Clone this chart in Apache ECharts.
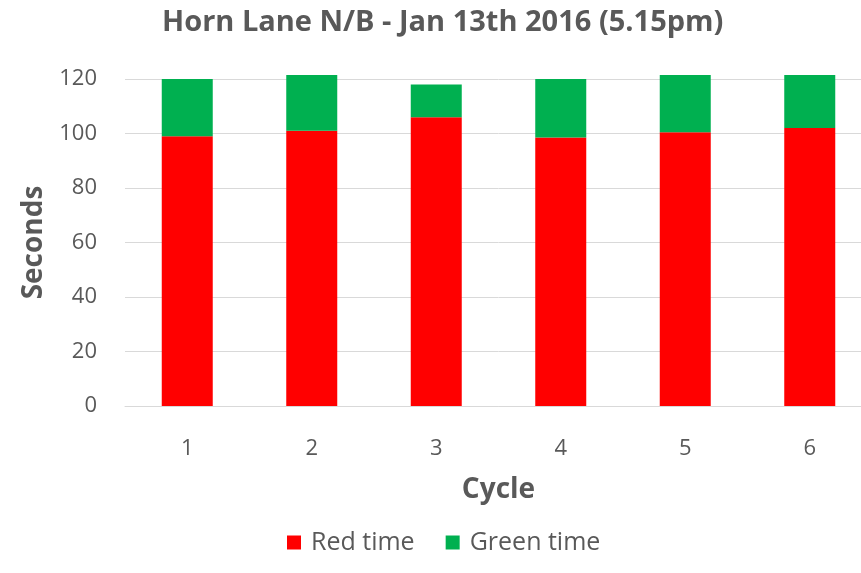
<!DOCTYPE html>
<html>
<head>
<meta charset="utf-8">
<script src="https://cdn.jsdelivr.net/npm/echarts@6/dist/echarts.min.js"></script>
<style>
	html, body { margin: 0; padding: 0; background: #fff; overflow: hidden; }
	/* a bit wider than the window: the original is cropped on the right */
	#chart { width: 872px; height: 573px; }
</style>
</head>
<body>
<div id="chart"></div>
<script>
	// data
	var cycles = ['1', '2', '3', '4', '5', '6']
	var redTime = [99, 101, 106, 98.5, 100.5, 102]
	var greenTime = [21, 20.5, 12, 21.5, 21, 19.5]
	var yTicks = [0, 20, 40, 60, 80, 100, 120]

	var txt = '#595959'
	var font = '"Open Sans", "Noto Sans", sans-serif'

	var chart = echarts.init(document.getElementById('chart'))
	chart.setOption({
		animation: false,
		textStyle: { fontFamily: font },
		title: {
			text: 'Horn Lane N/B - Jan 13th 2016 (5.15pm)',
			left: 157,
			top: 3,
			textStyle: { color: txt, fontSize: 29, fontWeight: 'bold', fontFamily: font }
		},
		legend: {
			data: ['Red time', 'Green time'],
			bottom: 13,
			left: 282,
			itemWidth: 14,
			itemHeight: 14,
			itemGap: 31,
			icon: 'rect',
			textStyle: { color: txt, fontSize: 25, fontFamily: font, padding: [0, 0, 0, 5] }
		},
		grid: { left: 125, right: 0, top: 79, bottom: 167 },
		xAxis: {
			type: 'category',
			data: cycles,
			name: 'Cycle',
			nameLocation: 'middle',
			nameGap: 70,
			nameTextStyle: { color: txt, fontSize: 28, fontWeight: 'bold' },
			axisLine: { lineStyle: { color: '#d9d9d9' } },
			axisTick: { show: false },
			axisLabel: { color: txt, fontSize: 22, margin: 32 }
		},
		yAxis: {
			type: 'value',
			min: yTicks[0],
			max: yTicks[yTicks.length - 1],
			interval: 20,
			name: 'Seconds',
			nameLocation: 'middle',
			nameGap: 74,
			nameTextStyle: { color: txt, fontSize: 28, fontWeight: 'bold' },
			axisLine: { show: false },
			axisTick: { show: false },
			axisLabel: { color: txt, fontSize: 22, margin: 28 },
			splitLine: { lineStyle: { color: '#d9d9d9' } }
		},
		series: [{
			name: 'Red time',
			type: 'bar',
			stack: 'total',
			data: redTime,
			barWidth: 51,
			clip: false,
			itemStyle: { color: '#ff0000' }
		}, {
			name: 'Green time',
			type: 'bar',
			stack: 'total',
			data: greenTime,
			barWidth: 51,
			clip: false,
			itemStyle: { color: '#00b050' }
		}]
	})
</script>
</body>
</html>
